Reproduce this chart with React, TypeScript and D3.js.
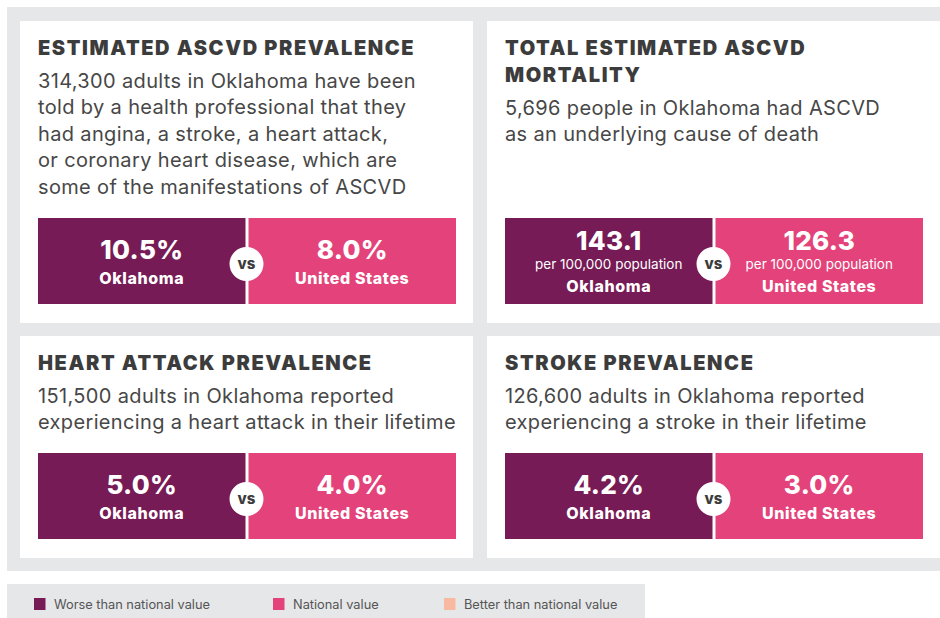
import React from 'react';
import * as d3 from 'd3';

const TITLES = [
  ['ESTIMATED ASCVD PREVALENCE'],
  ['TOTAL ESTIMATED ASCVD', 'MORTALITY'],
  ['HEART ATTACK PREVALENCE'],
  ['STROKE PREVALENCE'],
];

const DESCRIPTIONS = [
  [
    '314,300 adults in Oklahoma have been',
    'told by a health professional that they',
    'had angina, a stroke, a heart attack,',
    'or coronary heart disease, which are',
    'some of the manifestations of ASCVD',
  ],
  ['5,696 people in Oklahoma had ASCVD', 'as an underlying cause of death'],
  ['151,500 adults in Oklahoma reported', 'experiencing a heart attack in their lifetime'],
  ['126,600 adults in Oklahoma reported', 'experiencing a stroke in their lifetime'],
];

const STATE_VALUES = ['10.5%', '143.1', '5.0%', '4.2%'];
const US_VALUES = ['8.0%', '126.3', '4.0%', '3.0%'];
const UNITS = ['', 'per 100,000 population', '', ''];
const REGIONS = ['Oklahoma', 'United States'];
const LEGEND = ['Worse than national value', 'National value', 'Better than national value'];

const PURPLE = '#761b55';
const PINK = '#e3437a';
const PEACH = '#f8b9a0';
const GRAY = '#e6e7e9';
const TITLE_C = '#3c3c3c';
const BODY_C = '#474747';
const FONT = 'Inter, "Noto Sans", sans-serif';

const W = 940;
const H = 618;

// card grid
const colX = d3.scaleBand<number>().domain([0, 1]).range([20, 940]).paddingInner(14 / 467);
const rowTop = [21, 336];
const rowH = [302, 222];
const boxOffset = [197, 117];
const boxH = 86;

// legend entries flow left to right
const legendX = d3.scaleOrdinal<string, number>().domain(LEGEND).range([34, 273, 444]);

function Card({ i }: { i: number }) {
  const col = i % 2;
  const row = Math.floor(i / 2);
  const x0 = colX(col) as number;
  const y0 = rowTop[row];
  const cw = colX.bandwidth();
  const half = d3
    .scaleBand<string>()
    .domain(['state', 'us'])
    .range([x0 + 18, x0 + 436])
    .paddingInner(3 / 210.5);
  const by = y0 + boxOffset[row];
  const hasUnit = UNITS[i] !== '';
  const vals = [STATE_VALUES[i], US_VALUES[i]];
  const titleLines = TITLES[i];
  const bodyStart = y0 + 33.5 + (titleLines.length - 1) * 27 + 33;
  return (
    <g>
      <rect x={x0} y={y0} width={cw} height={rowH[row]} fill="#fff" />
      {titleLines.map((t, k) => (
        <text
          key={k}
          x={x0 + 18}
          y={y0 + 33.5 + k * 27}
          fontFamily={FONT}
          fontWeight={900}
          fontSize={20}
          letterSpacing={1.6}
          fill={TITLE_C}
        >
          {t}
        </text>
      ))}
      {DESCRIPTIONS[i].map((t, k) => (
        <text
          key={k}
          x={x0 + 18}
          y={bodyStart + k * 26.5}
          fontFamily={FONT}
          fontSize={20}
          letterSpacing={0.35}
          fill={BODY_C}
        >
          {t}
        </text>
      ))}
      {['state', 'us'].map((key, k) => {
        const bx = half(key) as number;
        const cx = bx + half.bandwidth() / 2;
        return (
          <g key={key}>
            <rect x={bx} y={by} width={half.bandwidth()} height={boxH} fill={k === 0 ? PURPLE : PINK} />
            <text
              x={cx}
              y={by + (hasUnit ? 32 : 41)}
              textAnchor="middle"
              fontFamily={FONT}
              fontWeight={800}
              fontSize={26}
              letterSpacing={0.3}
              fill="#fff"
            >
              {vals[k]}
            </text>
            {hasUnit && (
              <text x={cx} y={by + 51} textAnchor="middle" fontFamily={FONT} fontSize={13.5} fill="#fff">
                {UNITS[i]}
              </text>
            )}
            <text
              x={cx}
              y={by + (hasUnit ? 74 : 66)}
              textAnchor="middle"
              fontFamily={FONT}
              fontWeight={800}
              fontSize={16}
              letterSpacing={0.6}
              fill="#fff"
            >
              {REGIONS[k]}
            </text>
          </g>
        );
      })}
      <circle cx={x0 + 226.5} cy={by + 46} r={17} fill="#fff" />
      <text
        x={x0 + 226.5}
        y={by + 46}
        dy="0.35em"
        textAnchor="middle"
        fontFamily={FONT}
        fontWeight={800}
        fontSize={15}
        fill={TITLE_C}
      >
        vs
      </text>
    </g>
  );
}

export default function App() {
  const legendColors = [PURPLE, PINK, PEACH];
  return (
    <svg width={W} height={H} style={{ position: 'absolute', left: 0, top: 0, background: '#fff' }}>
      <rect x={7} y={7} width={W - 7} height={564} fill={GRAY} />
      {[0, 1, 2, 3].map((i) => (
        <Card key={i} i={i} />
      ))}
      <rect x={7} y={584} width={638} height={H - 584} fill={GRAY} />
      {LEGEND.map((label, k) => {
        const lx = legendX(label);
        return (
          <g key={label}>
            <rect x={lx} y={598} width={11.5} height={12} fill={legendColors[k]} />
            <text x={lx + 20} y={609} fontFamily={FONT} fontSize={12.8} fill="#555">
              {label}
            </text>
          </g>
        );
      })}
    </svg>
  );
}
